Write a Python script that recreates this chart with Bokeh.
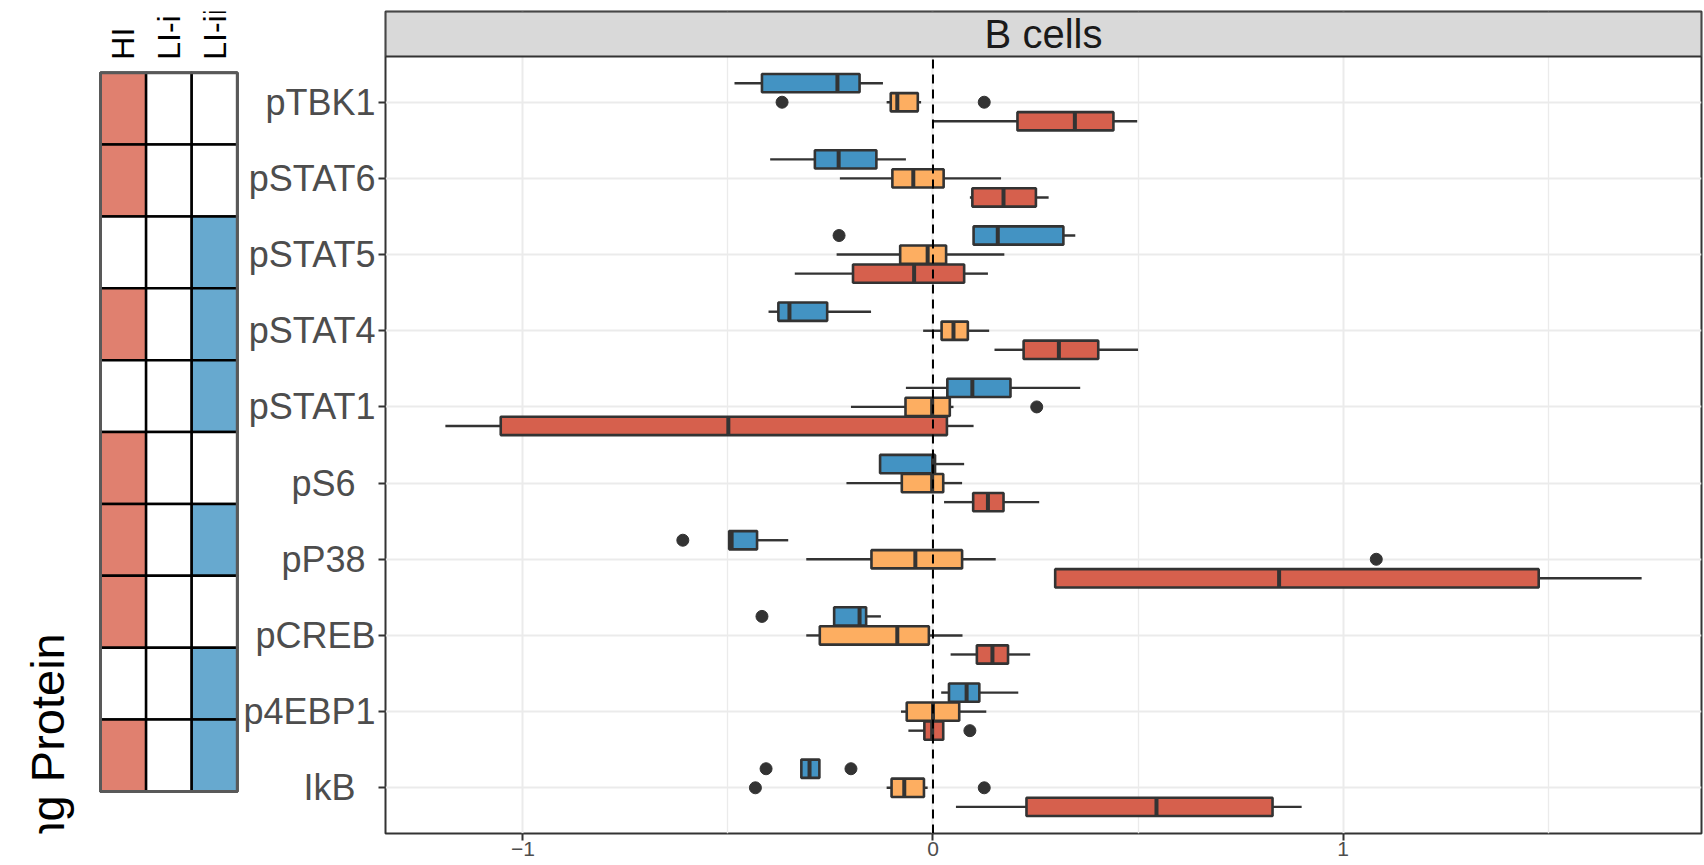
import math
from bokeh.plotting import figure
from bokeh.layouts import row
from bokeh.models import Range1d, FixedTicker, ColumnDataSource
from bokeh.embed import file_html
from bokeh.resources import INLINE
from bokeh.core.properties import value

# ---------------- data ----------------
proteins = ["pTBK1", "pSTAT6", "pSTAT5", "pSTAT4", "pSTAT1",
            "pS6", "pP38", "pCREB", "p4EBP1", "IkB"]
axis_labels = ["pTBK1", "pSTAT6", "pSTAT5", "pSTAT4", "pSTAT1",
               "pS6\u00a0\u00a0", "pP38\u00a0", "pCREB", "p4EBP1", "IkB\u00a0\u00a0"]

groups = ["LI-ii", "LI-i", "HI"]
group_colors = ["#4393C3", "#FDAE61", "#D6604D"]

# box statistics per group: lower whisker, q1, median, q3, upper whisker
li2_low = [-0.484, -0.397, 0.099, -0.401, -0.066, -0.129, -0.497, -0.241, 0.020, -0.321]
li2_q1  = [-0.417, -0.288, 0.099, -0.377, 0.035, -0.129, -0.497, -0.241, 0.039, -0.321]
li2_med = [-0.233, -0.230, 0.158, -0.350, 0.096, 0.000, -0.491, -0.179, 0.082, -0.301]
li2_q3  = [-0.179, -0.138, 0.318, -0.258, 0.189, 0.005, -0.429, -0.163, 0.113, -0.277]
li2_high = [-0.122, -0.066, 0.347, -0.151, 0.359, 0.076, -0.353, -0.127, 0.208, -0.277]
li2_out_protein = ["pSTAT5", "pP38", "pCREB", "IkB", "IkB"]
li2_out_value = [-0.229, -0.610, -0.417, -0.407, -0.200]

li1_low = [-0.113, -0.227, -0.235, -0.024, -0.200, -0.211, -0.309, -0.309, -0.078, -0.113]
li1_q1  = [-0.103, -0.099, -0.080, 0.021, -0.067, -0.076, -0.150, -0.276, -0.064, -0.101]
li1_med = [-0.087, -0.048, -0.013, 0.050, -0.002, -0.002, -0.043, -0.087, 0.000, -0.070]
li1_q3  = [-0.037, 0.026, 0.032, 0.085, 0.041, 0.025, 0.071, -0.010, 0.064, -0.022]
li1_high = [-0.029, 0.166, 0.174, 0.137, 0.050, 0.071, 0.153, 0.072, 0.130, -0.013]
li1_out_protein = ["pTBK1", "pTBK1", "pSTAT1", "pP38", "IkB", "IkB"]
li1_out_value = [-0.368, 0.125, 0.253, 1.081, -0.433, 0.125]

hi_low = [0.000, 0.090, -0.337, 0.150, -1.189, 0.027, 0.298, 0.043, -0.060, 0.056]
hi_q1  = [0.206, 0.096, -0.195, 0.221, -1.054, 0.098, 0.298, 0.107, -0.021, 0.228]
hi_med = [0.346, 0.172, -0.046, 0.307, -0.499, 0.134, 0.844, 0.145, -0.002, 0.545]
hi_q3  = [0.440, 0.251, 0.076, 0.403, 0.034, 0.172, 1.477, 0.183, 0.025, 0.828]
hi_high = [0.498, 0.282, 0.134, 0.500, 0.099, 0.259, 1.728, 0.237, 0.025, 0.899]
hi_out_protein = ["p4EBP1"]
hi_out_value = [0.090]

# significance heatmap (1 = significant)
heat_columns = ["HI", "LI-i", "LI-ii"]
sig_HI    = [1, 1, 0, 1, 0, 1, 1, 1, 0, 1]
sig_LI_i  = [0, 0, 0, 0, 0, 0, 0, 0, 0, 0]
sig_LI_ii = [0, 0, 1, 1, 1, 0, 1, 0, 1, 1]
heat_on_colors = ["#E0806F", "#FFFFFF", "#67A9CF"]

strip_title = "B cells"
y_title = "Signaling Protein"
x_ticks = [-1, 0, 1]
x_tick_labels = ["\u22121", "0", "1"]

FONT = "Liberation Sans"
n = len(proteins)
ypos = {name: n - i for i, name in enumerate(proteins)}  # pTBK1 at top

# ---------------- heatmap figure ----------------
hm = figure(width=240, height=865, x_range=Range1d(-1.693, 3.570),
            y_range=Range1d(-0.086, 11.351), output_backend="svg",
            toolbar_location=None, min_border=0,
            x_axis_location=None, y_axis_location=None)
hm.grid.visible = False
hm.outline_line_color = None
hm.background_fill_color = "white"

hx, hy, hc = [], [], []
for j, col in enumerate([sig_HI, sig_LI_i, sig_LI_ii]):
    for i, v in enumerate(col):
        hx.append(j + 1)
        hy.append(ypos[proteins[i]])
        hc.append(heat_on_colors[j] if v else "#FFFFFF")
hm.rect(x=hx, y=hy, width=1, height=1, fill_color=hc,
        line_color="black", line_width=2.5)
hm.rect(x=[2], y=[(n + 1) / 2], width=3, height=n, fill_color=None,
        line_color="#595959", line_width=3)

hm.text(x=[1, 2, 3], y=[n + 0.68] * 3, text=heat_columns, angle=math.pi / 2,
        text_align="left", text_baseline="middle",
        text_font=value(FONT), text_font_size="32px", text_color="black")

hm.text(x=[-0.662], y=[2.70], text=[y_title], angle=math.pi / 2,
        text_align="right", text_baseline="alphabetic",
        text_font=value(FONT), text_font_size="47px", text_color="black")

# ---------------- main box plot figure ----------------
x0, x1 = -1.335, 1.874
ylo, yhi = 0.4, n + 0.6
strip_h = 0.591
p = figure(width=1464, height=865, x_range=Range1d(x0, x1),
           y_range=Range1d(ylo, yhi + strip_h), output_backend="svg",
           toolbar_location=None, min_border_left=143, min_border_right=3,
           min_border_top=11, min_border_bottom=32)
p.background_fill_color = "white"
p.outline_line_color = "#333333"
p.outline_line_width = 2

p.xaxis.ticker = FixedTicker(ticks=x_ticks, minor_ticks=[-0.5, 0.5, 1.5])
p.xaxis.major_label_overrides = {t: l for t, l in zip(x_ticks, x_tick_labels)}
p.yaxis.ticker = FixedTicker(ticks=list(range(1, n + 1)), minor_ticks=[])
p.yaxis.major_label_overrides = {ypos[name]: lab for name, lab in zip(proteins, axis_labels)}

for ax in (p.xaxis[0], p.yaxis[0]):
    ax.axis_line_color = None
    ax.major_tick_line_color = "#333333"
    ax.major_tick_line_width = 2
    ax.major_tick_out = 7
    ax.major_tick_in = 0
    ax.minor_tick_line_color = None
    ax.major_label_text_font = FONT
    ax.major_label_text_color = "#4D4D4D"
p.yaxis.major_label_text_font_size = "36px"
p.yaxis.major_label_standoff = 3
p.xaxis.major_label_text_font_size = "21px"
p.xaxis.major_label_standoff = 1

p.xgrid.grid_line_color = "#EBEBEB"
p.xgrid.grid_line_width = 2
p.xgrid.minor_grid_line_color = "#EBEBEB"
p.xgrid.minor_grid_line_width = 1.3
p.ygrid.grid_line_color = "#EBEBEB"
p.ygrid.grid_line_width = 2

# strip
p.quad(left=[x0], right=[x1], bottom=[yhi], top=[yhi + strip_h],
       fill_color="#D9D9D9", line_color="#333333", line_width=2)
p.text(x=[(x0 + x1) / 2], y=[yhi + strip_h / 2], text=[strip_title],
       text_align="center", text_baseline="middle", text_font=value(FONT),
       text_font_size="40px", text_color="#1A1A1A")

group_stats = [
    (li2_low, li2_q1, li2_med, li2_q3, li2_high, li2_out_protein, li2_out_value),
    (li1_low, li1_q1, li1_med, li1_q3, li1_high, li1_out_protein, li1_out_value),
    (hi_low, hi_q1, hi_med, hi_q3, hi_high, hi_out_protein, hi_out_value),
]
offsets = [0.25, 0.0, -0.25]
box_h = 0.24
edge = "#333333"
for (lo, q1, med, q3, hi, op, ov), color, off in zip(group_stats, group_colors, offsets):
    yy = [ypos[nm] + off for nm in proteins]
    src = ColumnDataSource(dict(y=yy, lo=lo, q1=q1, med=med, q3=q3, hi=hi,
                                yb=[v - box_h / 2 for v in yy],
                                yt=[v + box_h / 2 for v in yy]))
    p.segment(x0="lo", y0="y", x1="q1", y1="y", source=src, line_color=edge, line_width=2.4)
    p.segment(x0="q3", y0="y", x1="hi", y1="y", source=src, line_color=edge, line_width=2.4)
    p.hbar(y="y", left="q1", right="q3", height=box_h, source=src,
           fill_color=color, line_color=edge, line_width=2.6)
    p.segment(x0="med", y0="yb", x1="med", y1="yt", source=src,
              line_color=edge, line_width=4)
    p.scatter(x=ov, y=[ypos[nm] + off for nm in op], size=12,
              fill_color=edge, line_color=edge)

p.segment(x0=[0], y0=[ylo], x1=[0], y1=[yhi], line_color="black",
          line_width=2, line_dash="9 6")

layout = row(hm, p)
open("out.html", "w").write(file_html(layout, INLINE))
